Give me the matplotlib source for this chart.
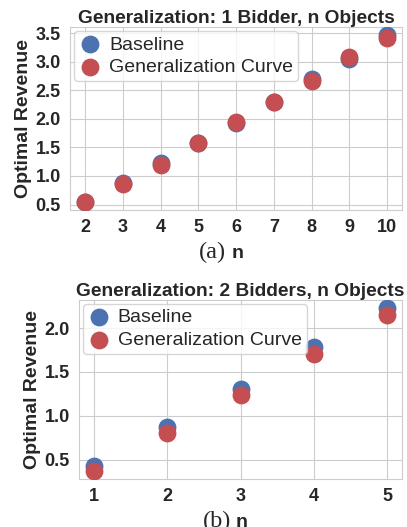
import matplotlib
matplotlib.use("Agg")
import matplotlib.pyplot as plt
import seaborn as sns

# 1 bidder, n objects
n_a = [2, 3, 4, 5, 6, 7, 8, 9, 10]
base_a = [0.55, 0.87, 1.22, 1.57, 1.93, 2.30, 2.70, 3.05, 3.46]
gen_a = [0.55, 0.86, 1.19, 1.57, 1.95, 2.30, 2.66, 3.09, 3.42]

# 2 bidders, n objects
n_b = [1, 2, 3, 4, 5]
base_b = [0.43, 0.87, 1.30, 1.79, 2.23]
gen_b = [0.37, 0.80, 1.24, 1.70, 2.15]

sns.set_style("whitegrid")
plt.rcParams['font.family'] = ['Liberation Sans', 'DejaVu Sans']

blue = "#4C72B0"
red = "#C44E52"

fig = plt.figure(figsize=(4.07, 5.27), dpi=100)
ax1 = fig.add_axes([0.172, 0.6015, 0.816, 0.347])
ax2 = fig.add_axes([0.194, 0.091, 0.794, 0.340])


def draw(ax, n, base, gen, title, ticks, cap):
    ax.scatter(n, base, s=140, color=blue, label="Baseline", zorder=3)
    ax.scatter(n, gen, s=140, color=red, label="Generalization Curve", zorder=3)
    ax.set_title(title, fontsize=13.8, fontweight="bold", pad=3)
    ax.set_ylabel("Optimal Revenue", fontsize=14, fontweight="bold", labelpad=3)
    ax.set_xticks(n)
    ax.set_yticks(ticks)
    ax.tick_params(labelsize=13, pad=3)
    for lab in ax.get_xticklabels() + ax.get_yticklabels():
        lab.set_fontweight("bold")
    for sp in ax.spines.values():
        sp.set_color("#cccccc")
    ax.legend(loc="upper left", fontsize=14, borderpad=0.25, handletextpad=0.35,
              labelspacing=0.25, borderaxespad=0.2, handlelength=1.2)
    # caption "(a) n" below the tick labels
    ax.annotate(cap, xy=(0.5, 0), xycoords="axes fraction",
                xytext=(-7, -23), textcoords="offset points",
                ha="right", va="top", fontsize=17.5, family="Liberation Serif")
    ax.annotate("n", xy=(0.5, 0), xycoords="axes fraction",
                xytext=(-3.5, -25), textcoords="offset points",
                ha="left", va="top", fontsize=14, fontweight="bold")


draw(ax1, n_a, base_a, gen_a, "Generalization: 1 Bidder, n Objects",
     [0.5, 1.0, 1.5, 2.0, 2.5, 3.0, 3.5], "(a)")
draw(ax2, n_b, base_b, gen_b, "Generalization: 2 Bidders, n Objects",
     [0.5, 1.0, 1.5, 2.0], "(b)")

fig.savefig("out.png", dpi=100)
